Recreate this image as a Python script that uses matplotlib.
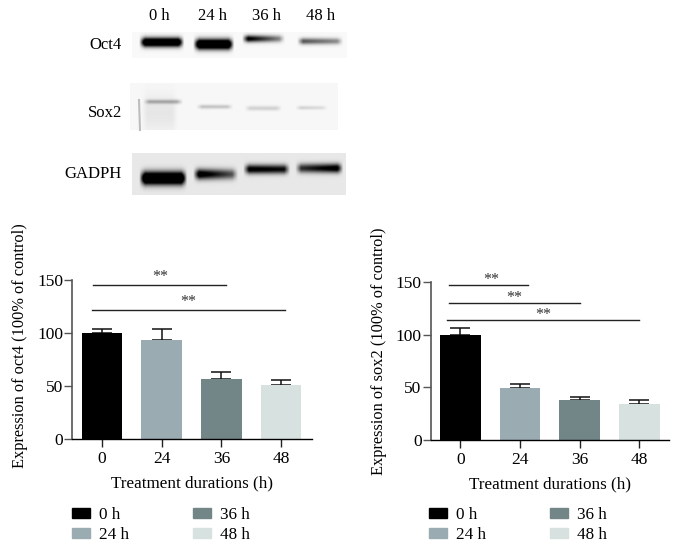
import matplotlib
matplotlib.use('Agg')
import matplotlib.pyplot as plt
import numpy as np
from matplotlib.patches import Patch

plt.rcParams['font.family'] = ['Liberation Serif', 'DejaVu Serif']
plt.rcParams['font.size'] = 12

# bar data
durations = ['0', '24', '36', '48']
legend_labels = ['0 h', '24 h', '36 h', '48 h']
colors = ['#000000', '#9aabb2', '#728587', '#d7e1e0']

oct4_values = [100, 93.5, 56.5, 51]
oct4_err = [4, 10, 6.5, 4.5]
sox2_values = [100, 49, 38, 34.5]
sox2_err = [6, 4, 3, 3.5]

# significance lines: x start, x end, height, star x, star y
oct4_sig = [(-0.15, 2.08, 145, 0.97, 145), (-0.17, 3.07, 122, 1.44, 122)]
sox2_sig = [(-0.19, 1.13, 147, 0.52, 144), (-0.19, 2.0, 130, 0.9, 127), (-0.23, 3.0, 113.5, 1.39, 110.5)]

# blot bands: x start, x end, y, thickness, darkness at left, darkness at right
oct4_bands = [(139, 184, 42, 3.2, 1.5, 1.5), (193, 234, 44, 3.6, 1.6, 1.6),
              (242, 285, 38.5, 2.4, 1.2, 0.35), (297, 343, 41, 2.2, 0.7, 0.4)]
sox2_bands = [(143, 183, 101.5, 1.5, 0.3, 0.3), (196, 233, 106.5, 1.4, 0.22, 0.2),
              (244, 282, 108, 1.6, 0.15, 0.16), (295, 328, 107.5, 1.3, 0.17, 0.1),
              (141, 178, 113, 13, 0.07, 0.07)]
gadph_bands = [(139, 187, 178, 4.5, 1.7, 1.7), (193, 238, 174, 3.6, 1.3, 0.55),
               (243, 290, 169, 3.2, 1.1, 0.95), (295, 343, 168, 3.2, 0.75, 1.2)]


def blot(ax, extent, bands, background):
    x0, x1, y0, y1 = extent
    xs = np.arange(x0, x1, 0.5)
    ys = np.arange(y0, y1, 0.5)
    xx, yy = np.meshgrid(xs, ys)
    img = np.full(xx.shape, background, dtype=float)
    for a, b, yc, t, dl, dr in bands:
        edge = np.clip((xx - a) / 6, 0, 1) * np.clip((b - xx) / 6, 0, 1)
        dark = dl + (dr - dl) * np.clip((xx - a) / (b - a), 0, 1)
        img -= background * dark * edge * np.exp(-((yy - yc) / t) ** 2 / 2)
    ax.imshow(np.clip(img, 0, 1), extent=(x0, x1, y1, y0), cmap='gray', vmin=0, vmax=1,
              aspect='auto', interpolation='bilinear')


def bar_panel(left, right, top, bottom, center0, values, err, sig, ylabel, label_y, legend_x):
    ax = fig.add_axes([left / 680, 1 - bottom / 549, (right - left) / 680, (bottom - top) / 549])
    x = np.arange(len(values))
    ax.bar(x, values, width=0.68, color=colors, zorder=3)
    ax.errorbar(x, values, yerr=[[0] * len(err), err], fmt='none', ecolor='#111111',
                elinewidth=1.1, capsize=7.2, capthick=1.1, zorder=2)
    ax.set_xlim((left - center0) / 59.7, (right - center0) / 59.7)
    ax.set_ylim(0, 150)
    ax.set_xticks(x, durations)
    ax.set_yticks([0, 50, 100, 150])
    ax.tick_params(axis='both', labelsize=12.5, length=5.5, width=1, color='#222222', pad=3)
    ax.tick_params(axis='y', color='#555555', pad=1)
    ax.spines['top'].set_visible(False)
    ax.spines['right'].set_visible(False)
    ax.spines['left'].set_color('#555555')
    ax.spines['left'].set_linewidth(1.2)
    ax.spines['bottom'].set_linewidth(1)
    ax.spines['bottom'].set_zorder(5)
    ax.set_xlabel('Treatment durations (h)', fontsize=12.3, labelpad=6)
    ax.set_ylabel(ylabel, fontsize=11.8)
    ax.yaxis.set_label_coords(-44 / (right - left), label_y)
    for a, b, h, sx, sy in sig:
        ax.plot([a, b], [h, h], color='#222222', lw=1, clip_on=False)
        ax.text(sx, sy, '**', ha='center', va='bottom', fontsize=11.5, color='#333333')
    handles = [Patch(color=c, label=l) for c, l in zip(colors, legend_labels)]
    fig.legend(handles=handles, ncol=2, frameon=False, fontsize=12.3, handlelength=1.0,
               handleheight=0.5, handletextpad=0.55, columnspacing=3.78, labelspacing=0.22,
               loc='upper left', bbox_to_anchor=(legend_x / 680, 1 - 504 / 549),
               borderaxespad=0, borderpad=0.2)
    return ax


fig = plt.figure(figsize=(6.8, 5.49), dpi=100)

bg = fig.add_axes([0, 0, 1, 1])
blot(bg, (132, 347, 32, 58), oct4_bands, 0.975)
blot(bg, (130, 338, 83, 130), sox2_bands, 0.97)
blot(bg, (132, 346, 153, 195), gadph_bands, 0.91)
# smear at the edge of the first Sox2 lane
bg.plot([139, 140], [100, 130], color='#bdbdbd', lw=1.5)
bg.set_xlim(0, 680)
bg.set_ylim(549, 0)
bg.axis('off')

for lx, lab in zip([159, 213, 267, 321], legend_labels):
    bg.text(lx, 16, lab, ha='center', va='center', fontsize=12)
for ly, lab in zip([45, 113, 174], ['Oct4', 'Sox2', 'GADPH']):
    bg.text(122, ly, lab, ha='right', va='center', fontsize=12)

bar_panel(72, 312, 280, 439.3, 102, oct4_values, oct4_err, oct4_sig,
          'Expression of oct4 (100% of control)', 0.586, 69)
bar_panel(430.7, 669, 281.7, 440.3, 460.3, sox2_values, sox2_err, sox2_sig,
          'Expression of sox2 (100% of control)', 0.56, 426)

fig.savefig('out.png', dpi=100)
